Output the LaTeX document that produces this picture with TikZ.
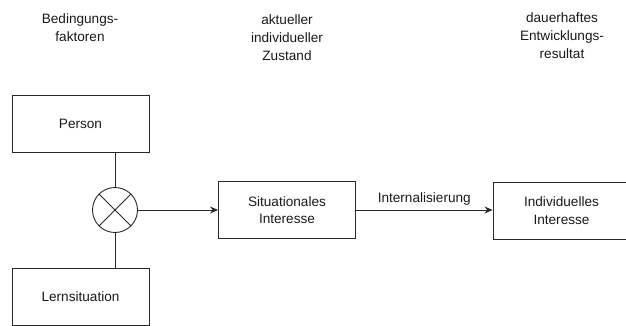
\documentclass[tikz,border=0pt]{standalone}
\usepackage{fontspec}
\setmainfont{Liberation Sans}
\usepackage{tikz}
\usetikzlibrary{
    arrows.meta,
    positioning,
    calc
}
\definecolor{linegray}{RGB}{40,40,40}
\definecolor{textgray}{RGB}{25,25,25}
\tikzset{
    factorbox/.style={draw=linegray, line width=0.9pt, minimum width=137pt,
        minimum height=57pt, align=center, text=textgray,
        font=\fontsize{13.6}{17.5}\selectfont},
    headline/.style={align=center, text=textgray,
        font=\fontsize{13.6}{18}\selectfont},
    mixer/.style={draw=linegray, line width=0.9pt, circle, minimum size=45pt,
        inner sep=0pt},
    link/.style={draw=linegray, line width=0.9pt},
    flow/.style={link, -{Stealth[length=8pt, width=7pt]}},
}

\begin{document}
\begin{tikzpicture}[x=1pt, y=-1pt]
    \useasboundingbox (0,0) rectangle (626,325);
    \clip (0,0) rectangle (626,325);

    %% Column heads
    \node[headline] (headfactors) at (80,28) {Bedingungs-\\faktoren};
    \node[headline] (headstate) at (287,38) {aktueller\\individueller\\Zustand};
    \node[headline] (headresult) at (562,36) {dauerhaftes\\Entwicklungs-\\resultat};

    %% Boxes
    \node[factorbox] (person) at (80.5,123.5) {Person};
    \node[factorbox] (lernsit) at (80.5,296.5) {Lernsituation};
    \node[factorbox] (sitint) at (287,210) {Situationales\\Interesse};
    \node[factorbox] (indint) at (561.5,210.5) {Individuelles\\Interesse};

    % interaction
    \node[mixer] (mix) at (115,210) {};
    \draw[link] (mix.45) -- (mix.225);
    \draw[link] (mix.135) -- (mix.315);

    %% Connectors
    \draw[link] (mix.north) -- (mix.north |- person.south);
    \draw[link] (mix.south) -- (mix.south |- lernsit.north);
    \draw[flow] (mix.east) -- (sitint.west);
    \draw[flow] (sitint.east) -- node[above=1pt, text=textgray,
        font=\fontsize{13.6}{15}\selectfont] (intlabel) {Internalisierung} (indint.west |- sitint.east);
\end{tikzpicture}
\end{document}
